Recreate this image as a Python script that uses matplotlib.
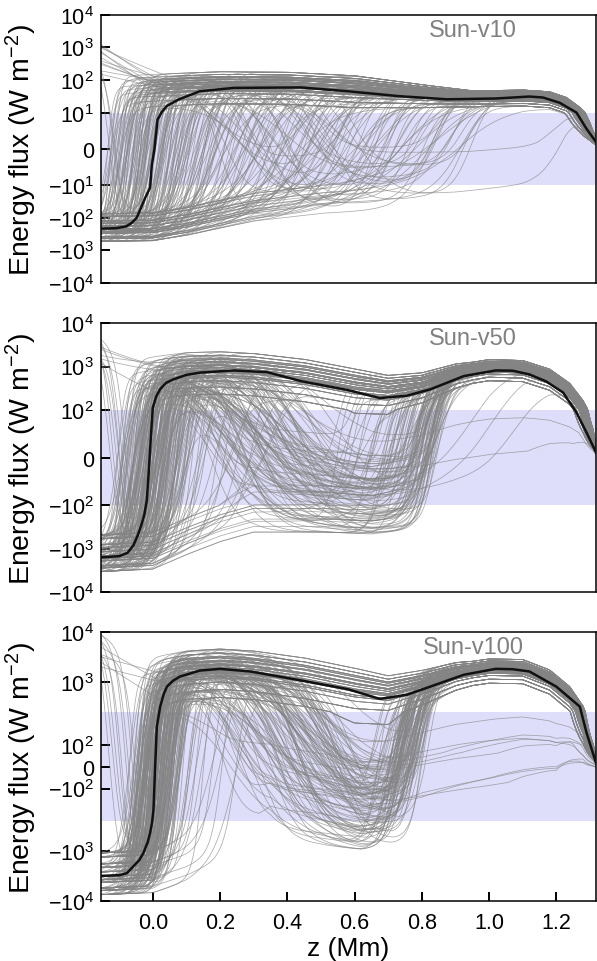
import numpy as np
import matplotlib
matplotlib.use('Agg')
import matplotlib.pyplot as plt
from matplotlib.scale import SymmetricalLogTransform

plt.rcParams['font.family'] = ['Liberation Sans', 'DejaVu Sans']
plt.rcParams['mathtext.fontset'] = 'custom'
plt.rcParams['mathtext.rm'] = 'Liberation Sans'
plt.rcParams['mathtext.it'] = 'Liberation Sans:italic'
plt.rcParams['mathtext.default'] = 'regular'

# ---------------- mean energy flux (black curves), z in Mm, W m^-2 ----------------
v10_mean_z = [-0.154, -0.11, -0.08, -0.065, -0.055, -0.048, -0.035, -0.023, -0.008, -0.003,
              0.005, 0.014, 0.027, 0.042, 0.076, 0.14, 0.24, 0.44, 0.58, 0.73, 0.875,
              1.02, 1.12, 1.16, 1.21, 1.26, 1.29, 1.318]
v10_mean = [-215, -210, -185, -150, -120, -100, -50, -25, -12, -4.6,
            0, 8, 10.5, 16, 25, 45, 57, 59, 45, 32, 25.5,
            27, 31, 29, 20, 10, 5.5, 1.9]

v50_mean_z = [-0.154, -0.1, -0.075, -0.058, -0.045, -0.035, -0.025, -0.018, -0.012, -0.006,
              0.0, 0.01, 0.022, 0.04, 0.06, 0.1, 0.14, 0.24, 0.34, 0.44, 0.58, 0.675,
              0.755, 0.825, 0.925, 1.02, 1.07, 1.12, 1.17, 1.22, 1.26, 1.29, 1.318]
v50_mean = [-1600, -1500, -1250, -850, -500, -300, -160, -90, -30, 40,
            110, 200, 300, 420, 500, 640, 720, 810, 740, 460, 285, 185,
            210, 295, 600, 810, 800, 655, 450, 250, 94, 52, 11]

v100_mean_z = [-0.154, -0.1, -0.077, -0.058, -0.04, -0.028, -0.015, -0.008, -0.002, 0.002,
               0.007, 0.012, 0.022, 0.032, 0.042, 0.06, 0.081, 0.14, 0.2, 0.29, 0.43,
               0.58, 0.675, 0.755, 0.825, 0.925, 1.02, 1.07, 1.12, 1.2, 1.27, 1.29, 1.318]
v100_mean = [-3150, -3050, -2770, -2030, -1500, -1090, -650, -424, -260, -197,
             0, 182, 315, 550, 800, 1050, 1280, 1690, 1830, 1620, 1100,
             710, 452, 545, 800, 1390, 1830, 1800, 1620, 800, 315, 153, 17]

# ---------------- individual runs (grey) ----------------
# typical flux of the upward (positive) and downward (negative) state of a run
v10_up_z = [-0.16, 0.0, 0.1, 0.2, 0.4, 0.6, 0.8, 0.95, 1.1, 1.18, 1.23, 1.27, 1.3, 1.33]
v10_up = [60, 70, 78, 85, 82, 64, 42, 32, 34, 30, 20, 10, 5, 1.5]
v10_lo_z = [-0.16, 0.0, 0.1, 0.2, 0.3, 0.5, 0.7, 0.9, 1.1, 1.25, 1.33]
v10_lo = [-230, -220, -150, -90, -55, -32, -25, -18, -10, -4, -1]

v50_up_z = [-0.16, 0.0, 0.1, 0.2, 0.3, 0.45, 0.6, 0.7, 0.8, 0.9, 1.0, 1.1, 1.18, 1.24, 1.28, 1.31, 1.33]
v50_up = [600, 800, 1000, 1050, 950, 700, 420, 330, 420, 750, 1000, 950, 600, 280, 110, 40, 8]
v50_lo_z = [-0.16, 0.0, 0.1, 0.2, 0.3, 0.5, 0.65, 0.8, 0.95, 1.1, 1.25, 1.33]
v50_lo = [-1500, -1300, -600, -300, -180, -180, -200, -150, -100, -65, -25, -4]

v100_up_z = [-0.16, 0.0, 0.1, 0.2, 0.3, 0.45, 0.6, 0.7, 0.8, 0.9, 1.0, 1.1, 1.18, 1.24, 1.28, 1.31, 1.33]
v100_up = [1500, 1500, 2000, 2200, 2000, 1450, 900, 700, 1000, 1600, 2000, 1950, 1200, 550, 220, 70, 15]
v100_lo_z = [-0.16, 0.0, 0.1, 0.2, 0.35, 0.5, 0.62, 0.72, 0.8, 1.0, 1.2, 1.33]
v100_lo = [-3300, -3000, -1800, -900, -300, -330, -400, -330, -250, -160, -80, -8]

# z where a run flips from negative to positive flux
v10_rise = [-0.135, -0.13, -0.124, -0.12, -0.113, -0.108, -0.104, -0.097, -0.092, -0.088,
            -0.083, -0.078, -0.074, -0.07, -0.066, -0.061, -0.057, -0.052, -0.048, -0.044,
            -0.04, -0.036, -0.031, -0.027, -0.022, -0.018, -0.013, -0.009, -0.004, 0.0,
            0.006, 0.011, 0.017, 0.022, 0.028, 0.034, 0.041, 0.047, 0.053, 0.06,
            0.066, 0.073, 0.08, 0.087, 0.095, 0.102, 0.11, 0.118, 0.126, 0.135,
            0.144, 0.153, 0.163, 0.172, 0.182, 0.193, 0.204, 0.215, 0.226, 0.238,
            0.25, 0.262, 0.275, 0.288, 0.3, 0.313, 0.327, 0.34, 0.354, 0.368,
            0.383, 0.398, 0.413, 0.43, 0.446, 0.463, 0.48, 0.5, 0.52, 0.54,
            0.56, 0.585, 0.61, 0.635, 0.66, 0.69, 0.72, 0.75, 0.79, 0.83, 0.87, 0.92]
v50_rise = [-0.105, -0.098, -0.09, -0.084, -0.078, -0.072, -0.066, -0.06, -0.055, -0.05,
            -0.045, -0.04, -0.036, -0.031, -0.027, -0.022, -0.018, -0.014, -0.009, -0.005,
            0.0, 0.004, 0.009, 0.014, 0.019, 0.025, 0.031, 0.037, 0.044, 0.051,
            0.058, 0.066, 0.075, 0.085, 0.096, 0.108, 0.12, 0.14, 0.165, 0.19,
            0.22, 0.26, 0.3, 0.35, 0.62, 0.7, 0.76, 0.8, 0.82, 0.845]
v100_rise = [-0.07, -0.062, -0.055, -0.05, -0.045, -0.04, -0.036, -0.032, -0.028, -0.024,
             -0.02, -0.016, -0.012, -0.008, -0.004, 0.0, 0.004, 0.008, 0.012, 0.017,
             0.022, 0.027, 0.032, 0.038, 0.044, 0.05, 0.057, 0.064, 0.072, 0.08,
             0.09, 0.1, 0.115, 0.13, 0.15, 0.18, 0.21, 0.25]

# runs that turn positive, sink back (dip) and turn positive again
v10_dip_rise = [-0.1, -0.06, -0.03, 0.0, 0.02, 0.05, 0.08, -0.08, 0.1, 0.12, -0.04, 0.03, 0.15, 0.06, -0.02, 0.18]
v10_dip_start = [0.22, 0.3, 0.35, 0.26, 0.42, 0.38, 0.5, 0.2, 0.45, 0.55, 0.33, 0.28, 0.6, 0.4, 0.48, 0.52]
v10_dip_end = [0.5, 0.62, 0.7, 0.58, 0.8, 0.72, 0.85, 0.45, 0.9, 0.92, 0.66, 0.55, 0.95, 0.76, 0.84, 1.22]

v50_dip_rise = [-0.09, -0.07, -0.06, -0.05, -0.045, -0.04, -0.035, -0.03, -0.025, -0.02,
                -0.015, -0.01, -0.005, 0.0, 0.005, 0.01, 0.015, 0.02, 0.025, 0.03,
                0.035, 0.04, 0.05, 0.06, 0.07, 0.08, 0.09, 0.1, -0.055, -0.028,
                0.012, 0.045, -0.065, -0.012, 0.022, 0.065, -0.038, 0.002, 0.032, 0.075,
                -0.08, -0.018, 0.028, 0.055, 0.11, 0.13, -0.042, 0.008, 0.038, 0.085]
v50_dip_start = [0.18, 0.3, 0.22, 0.4, 0.26, 0.35, 0.2, 0.45, 0.28, 0.33,
                 0.24, 0.38, 0.16, 0.42, 0.3, 0.48, 0.21, 0.36, 0.27, 0.44,
                 0.19, 0.32, 0.25, 0.4, 0.29, 0.5, 0.23, 0.37, 0.34, 0.17,
                 0.43, 0.26, 0.31, 0.2, 0.47, 0.39, 0.24, 0.35, 0.28, 0.41,
                 0.22, 0.3, 0.46, 0.33, 0.38, 0.27, 0.18, 0.36, 0.25, 0.43]
v50_dip_end = [0.8, 0.76, 0.82, 0.7, 0.79, 0.84, 0.62, 0.81, 0.74, 0.78,
               0.83, 0.66, 0.8, 0.77, 0.72, 0.85, 0.79, 0.58, 0.82, 0.75,
               0.81, 0.69, 0.83, 0.78, 0.8, 0.84, 0.64, 0.76, 0.81, 0.73,
               0.86, 0.79, 0.82, 0.6, 0.84, 0.8, 0.77, 0.83, 0.71, 0.82,
               0.68, 0.79, 0.85, 0.81, 0.75, 0.83, 0.78, 0.8, 0.55, 0.84]

v100_dip_rise = [-0.05, -0.045, -0.04, -0.035, -0.03, -0.026, -0.022, -0.018, -0.014, -0.01,
                 -0.006, -0.002, 0.002, 0.006, 0.01, 0.014, 0.018, 0.022, 0.026, 0.03,
                 0.035, 0.04, 0.045, 0.05, 0.056, 0.062, 0.068, 0.075, 0.08, -0.038,
                 -0.016, 0.004, 0.024, 0.042, -0.028, -0.008, 0.012, 0.033, 0.052, -0.044,
                 -0.02, 0.0, 0.02, 0.038, 0.06, -0.012, 0.008, 0.028, 0.047, 0.07,
                 0.015, 0.035, -0.025, 0.055]
v100_dip_start = [0.3, 0.42, 0.36, 0.5, 0.27, 0.45, 0.39, 0.55, 0.33, 0.48,
                  0.41, 0.58, 0.35, 0.44, 0.52, 0.29, 0.4, 0.47, 0.37, 0.56,
                  0.43, 0.32, 0.5, 0.38, 0.46, 0.6, 0.34, 0.42, 0.53, 0.31,
                  0.49, 0.4, 0.36, 0.45, 0.57, 0.25, 0.43, 0.51, 0.39, 0.47,
                  0.35, 0.54, 0.41, 0.3, 0.48, 0.44, 0.38, 0.52, 0.28, 0.46,
                  0.22, 0.26, 0.2, 0.24]
v100_dip_end = [0.74, 0.77, 0.72, 0.79, 0.7, 0.76, 0.75, 0.8, 0.73, 0.78,
                0.74, 0.81, 0.71, 0.76, 0.79, 0.68, 0.75, 0.77, 0.73, 0.8,
                0.76, 0.72, 0.78, 0.74, 0.77, 0.82, 0.7, 0.75, 0.79, 0.73,
                0.78, 0.74, 0.72, 0.76, 0.8, 0.66, 0.75, 0.78, 0.74, 0.77,
                0.71, 0.79, 0.76, 0.69, 0.78, 0.75, 0.73, 0.8, 0.67, 0.77,
                0.74, 0.78, 0.76, 0.8]

# runs that linger inside the linear band near the top
v50_stay_rise = [0.0, 0.03, -0.02, 0.05, 0.01]
v50_stay_start = [0.4, 0.5, 0.35, 0.45, 0.55]
v50_stay_end = [1.02, 1.1, 9.0, 9.0, 0.95]
v50_stay_depth = [0.9, 0.8, 0.62, 0.45, 0.7]

v100_stay_rise = [0.0, 0.02, -0.01, 0.04, 0.03, -0.03, 0.01, 0.05]
v100_stay_start = [0.45, 0.5, 0.4, 0.55, 0.48, 0.42, 0.52, 0.58]
v100_stay_end = [9.0, 9.0, 9.0, 9.0, 9.0, 9.0, 9.0, 9.0]
v100_stay_depth = [0.45, 0.52, 0.58, 0.62, 0.75, 0.82, 0.88, 0.5]

# runs that start strongly positive at the lower boundary
v10_head = [1200, 950, 750, 600, 480, 380, 300, 240, 190, 150, 1050, 680, 420, 330]
v10_head_start = [9, 9, 9, -0.12, 9, 9, 9, -0.11, 9, 9, 9, 9, -0.13, 9]
v10_head_end = [9, 9, 9, 0.0, 9, 9, 9, 0.02, 9, 9, 9, 9, -0.02, 9]

v50_head = [5000, 4200, 3500, 2800, 2200, 1800, 1500, 1200, 4600, 3100, 2500, 2000]
v50_head_start = [-0.1, -0.12, -0.09, 9, -0.11, 9, 9, 9, -0.08, -0.13, 9, -0.1]
v50_head_end = [0.02, 0.0, 0.05, 9, 0.03, 9, 9, 9, 0.07, -0.01, 9, 0.04]

v100_head = [10000, 8500, 7000, 6000, 5000, 4000, 3200, 2500, 9000, 5500, 3600, 2000, 7500]
v100_head_start = [-0.08, -0.1, -0.07, -0.12, 9, -0.09, 9, 9, -0.06, -0.11, -0.05, 9, -0.13]
v100_head_end = [0.03, 0.0, 0.05, -0.02, 9, 0.02, 9, 9, 0.06, 0.01, 0.08, 9, 0.04]

# spread of run levels around the typical state
up_fac = [1.0, 0.6, 1.5, 0.8, 2.1, 0.45, 1.2, 0.7, 1.75, 0.32, 1.05, 0.55, 1.4, 0.9, 0.22, 1.25, 0.75]
lo_fac = [1.0, 0.55, 1.7, 0.8, 2.3, 0.4, 1.3, 0.65, 1.9, 0.33, 1.15]
dip_depth = [1.0, 0.85, 1.0, 0.65, 1.0, 0.9, 0.55, 1.0, 0.75]

panels = [
    dict(name='Sun-v10', lin=10, mean_z=v10_mean_z, mean=v10_mean,
         up_z=v10_up_z, up=v10_up, lo_z=v10_lo_z, lo=v10_lo,
         rise=v10_rise, dip=(v10_dip_rise, v10_dip_start, v10_dip_end),
         stay=None, head=(v10_head, v10_head_start, v10_head_end),
         wr=([-0.2, 0.05, 0.3, 1.0], [0.008, 0.012, 0.03, 0.045]), wa=0.035, wb=0.03,
         ticks=[-1e4, -1e3, -1e2, -10, 0, 10, 1e2, 1e3, 1e4]),
    dict(name='Sun-v50', lin=100, mean_z=v50_mean_z, mean=v50_mean,
         up_z=v50_up_z, up=v50_up, lo_z=v50_lo_z, lo=v50_lo,
         rise=v50_rise, dip=(v50_dip_rise, v50_dip_start, v50_dip_end),
         stay=(v50_stay_rise, v50_stay_start, v50_stay_end, v50_stay_depth),
         head=(v50_head, v50_head_start, v50_head_end),
         wr=([-0.2, 0.1, 0.4, 1.0], [0.01, 0.014, 0.03, 0.02]), wa=0.045, wb=0.018,
         ticks=[-1e4, -1e3, -1e2, 0, 1e2, 1e3, 1e4]),
    dict(name='Sun-v100', lin=250, mean_z=v100_mean_z, mean=v100_mean,
         up_z=v100_up_z, up=v100_up, lo_z=v100_lo_z, lo=v100_lo,
         rise=v100_rise, dip=(v100_dip_rise, v100_dip_start, v100_dip_end),
         stay=(v100_stay_rise, v100_stay_start, v100_stay_end, v100_stay_depth),
         head=(v100_head, v100_head_start, v100_head_end),
         wr=([-0.2, 0.1, 0.4, 1.0], [0.009, 0.012, 0.025, 0.02]), wa=0.04, wb=0.017,
         ticks=[-1e4, -1e3, -1e2, 0, 1e2, 1e3, 1e4]),
]


def sig(x):
    return 1.0 / (1.0 + np.exp(-np.clip(x, -60, 60)))


def tick_label(v):
    if v == 0:
        return '0'
    e = int(round(np.log10(abs(v))))
    return ('\u2212$10^{%d}$' if v < 0 else '$10^{%d}$') % e


z = np.linspace(-0.154, 1.318, 500)
fig = plt.figure(figsize=(5.97, 9.62), dpi=100)
bottoms = [0.7048, 0.3839, 0.0627]
height = 0.2789

for k, p in enumerate(panels):
    ax = fig.add_axes([0.1692, bottoms[k], 0.8291, height])
    tr = SymmetricalLogTransform(10, p['lin'], 1.0)
    inv = tr.inverted()
    up = 10 ** np.interp(z, p['up_z'], np.log10(p['up']))
    lo = -10 ** np.interp(z, p['lo_z'], np.log10(-np.array(p['lo'], float)))
    spread = np.interp(z, [-0.2, 0.6, 0.95, 1.4], [1.0, 1.0, 0.5, 0.5])

    def run(i, rise, a=9.0, b=9.0, depth=1.0, head=None, wa=p['wa'], wb=p['wb'], wscale=1.0):
        upv = up * up_fac[i % len(up_fac)] ** spread
        if head is not None:
            f = np.clip((z - z[0]) / 0.2, 0, 1)
            upv = np.exp((1 - f) * np.log(head) + f * np.log(upv))
        lov = lo * lo_fac[(i * 3 + 1) % len(lo_fac)]
        wr = np.interp(rise, *p['wr']) * wscale
        s = sig((z - rise) / wr) * (1 - depth * sig((z - a) / wa) * sig((b - z) / wb))
        yt = s * tr.transform(upv) + (1 - s) * tr.transform(lov)
        return inv.transform(yt)

    curves = []
    # every run is drawn as a pair of members with different levels and sharpness
    for off, wsc in ((0, 1.0), (8, 1.8)):
        for i, r in enumerate(p['rise']):
            curves.append(run(i + off, r, wscale=wsc))
        for j, (r, a, b) in enumerate(zip(*p['dip'])):
            curves.append(run(j + 5 + off, r, a, b, dip_depth[(j + off) % len(dip_depth)],
                              wa=p['wa'] * wsc, wscale=wsc))
    if p['stay'] is not None:
        for j, (r, a, b, d) in enumerate(zip(*p['stay'])):
            curves.append(run(j + 2, r, a, b, d, wa=0.06, wb=0.06))
    for j, (h, a, b) in enumerate(zip(*p['head'])):
        curves.append(run(j + 7, -1.0, a, b, 1.0, head=h, wa=0.015, wb=0.015))

    ax.axhspan(-p['lin'], p['lin'], color='#dedefa', lw=0, zorder=1)
    for c in curves:
        ax.plot(z, c, color='#848484', lw=0.55, alpha=0.68, zorder=2)
    ax.plot(p['mean_z'], p['mean'], color='#111111', lw=1.8, zorder=3)

    ax.set_yscale('symlog', linthresh=p['lin'], linscale=1.0)
    ax.set_ylim(-1e4, 1e4)
    ax.set_xlim(-0.154, 1.318)
    ax.set_yticks(p['ticks'])
    ax.set_yticklabels([tick_label(v) for v in p['ticks']])
    ax.yaxis.set_minor_locator(matplotlib.ticker.NullLocator())
    ax.tick_params(axis='y', direction='in', length=6.5, width=1.4, labelsize=15.5, pad=5)
    ax.set_ylabel('Energy flux (W m$^{-2}$)', fontsize=20.5)
    ax.yaxis.set_label_coords(-0.125, 0.5)
    for sp in ax.spines.values():
        sp.set_linewidth(1.1)
    ax.text(0.752, 0.985, p['name'], transform=ax.transAxes, ha='center', va='top',
            fontsize=17, color='#808080')
    if k < 2:
        ax.set_xticks([])
    else:
        ax.set_xticks([0.0, 0.2, 0.4, 0.6, 0.8, 1.0, 1.2])
        ax.set_xticklabels(['0.0', '0.2', '0.4', '0.6', '0.8', '1.0', '1.2'])
        ax.tick_params(axis='x', direction='in', length=6.5, width=1.4, labelsize=15.5, pad=8)
        ax.set_xlabel('z (Mm)', fontsize=19, labelpad=2)

fig.savefig('out.png', dpi=100)
